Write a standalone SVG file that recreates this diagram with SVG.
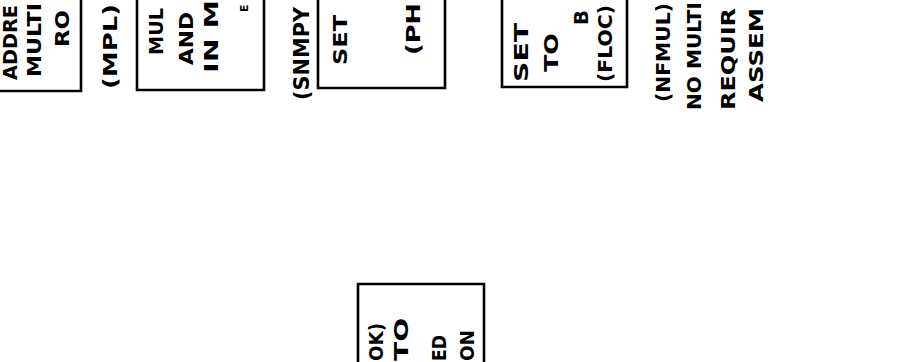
<svg xmlns="http://www.w3.org/2000/svg" width="903" height="362" viewBox="0 0 903 362">
<style>
.bx{fill:none;stroke:#000;stroke-width:2.6;stroke-linejoin:miter}
.t{font-family:"DejaVu Sans","Liberation Sans",sans-serif;font-weight:bold;font-size:19px;fill:#000}
.s{font-size:11px}
.l{font-size:21px}
</style>
<rect width="903" height="362" fill="#fff"/>
<g id="connectors"/>
<g id="node-addr">
<path class="bx" d="M-5 91H81V-5"/>
<text class="t" transform="translate(17,80) rotate(-90)" textLength="75" lengthAdjust="spacingAndGlyphs">ADDRE</text>
<text class="t" transform="translate(41,77) rotate(-90)" textLength="74" lengthAdjust="spacingAndGlyphs">MULTI</text>
<text class="t" transform="translate(69,47) rotate(-90)" textLength="37" lengthAdjust="spacingAndGlyphs">RO</text>
</g>
<g id="node-mpl">
<text class="t" transform="translate(117,89) rotate(-90)" textLength="85" lengthAdjust="spacingAndGlyphs">(MPL)</text>
<path class="bx" d="M137 -5V90H264V-5"/>
<text class="t" transform="translate(163,55) rotate(-90)" textLength="47" lengthAdjust="spacingAndGlyphs">MUL</text>
<text class="t" transform="translate(193,65) rotate(-90)" textLength="53" lengthAdjust="spacingAndGlyphs">AND</text>
<text class="t" transform="translate(218,73) rotate(-90)" textLength="73" lengthAdjust="spacingAndGlyphs">IN M</text>
<text class="t s" transform="translate(248,12) rotate(-90)">E</text>
</g>
<g id="node-snmpy">
<text class="t l" transform="translate(309,100) rotate(-90)" textLength="93" lengthAdjust="spacingAndGlyphs">(SNMPY</text>
<path class="bx" d="M318 -5V88H445V-5"/>
<text class="t" transform="translate(347,65) rotate(-90)" textLength="50" lengthAdjust="spacingAndGlyphs">SET</text>
<text class="t" transform="translate(420,55) rotate(-90)" textLength="52" lengthAdjust="spacingAndGlyphs">(PH</text>
</g>
<g id="node-floc">
<path class="bx" d="M502 -5V87H627V-5"/>
<text class="t" transform="translate(528,82) rotate(-90)" textLength="59" lengthAdjust="spacingAndGlyphs">SET</text>
<text class="t" transform="translate(558,72) rotate(-90)" textLength="39" lengthAdjust="spacingAndGlyphs">TO</text>
<text class="t" transform="translate(588,25) rotate(-90)" textLength="15" lengthAdjust="spacingAndGlyphs">B</text>
<text class="t" transform="translate(612,82) rotate(-90)" textLength="77" lengthAdjust="spacingAndGlyphs">(FLOC)</text>
</g>
<g id="node-nfmul">
<text class="t" transform="translate(670,102) rotate(-90)" textLength="99" lengthAdjust="spacingAndGlyphs">(NFMUL)</text>
<text class="t" transform="translate(701,110) rotate(-90)" textLength="108" lengthAdjust="spacingAndGlyphs">NO MULTI</text>
<text class="t" transform="translate(735,110) rotate(-90)" textLength="102" lengthAdjust="spacingAndGlyphs">REQUIR</text>
<text class="t" transform="translate(763,102) rotate(-90)" textLength="94" lengthAdjust="spacingAndGlyphs">ASSEM</text>
</g>
<g id="node-ok">
<path class="bx" d="M358 367V284H484V367"/>
<text class="t" transform="translate(383,361) rotate(-90)" textLength="38" lengthAdjust="spacingAndGlyphs">OK)</text>
<text class="t" transform="translate(408,361) rotate(-90)" textLength="43" lengthAdjust="spacingAndGlyphs">TO</text>
<text class="t" transform="translate(446,361) rotate(-90)" textLength="26" lengthAdjust="spacingAndGlyphs">ED</text>
<text class="t" transform="translate(474,361) rotate(-90)" textLength="31" lengthAdjust="spacingAndGlyphs">ON</text>
</g>
</svg>
